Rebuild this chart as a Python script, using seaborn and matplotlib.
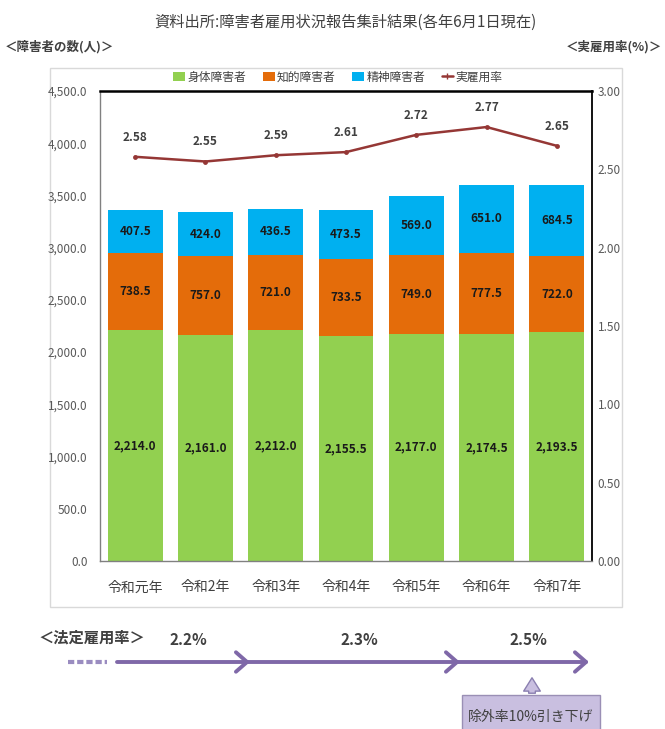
import numpy as np
import pandas as pd
import matplotlib
matplotlib.use("Agg")
import matplotlib.pyplot as plt
import seaborn as sns
from matplotlib.patches import Rectangle, FancyArrowPatch, Patch
from matplotlib.lines import Line2D
from matplotlib.ticker import FuncFormatter, MultipleLocator

# ---- data ----
years = ["令和元年", "令和2年", "令和3年", "令和4年", "令和5年", "令和6年", "令和7年"]
physical = [2214.0, 2161.0, 2212.0, 2155.5, 2177.0, 2174.5, 2193.5]
intellectual = [738.5, 757.0, 721.0, 733.5, 749.0, 777.5, 722.0]
mental = [407.5, 424.0, 436.5, 473.5, 569.0, 651.0, 684.5]
rate = [2.58, 2.55, 2.59, 2.61, 2.72, 2.77, 2.65]
series_names = ["身体障害者", "知的障害者", "精神障害者", "実雇用率"]
legal_rates = ["2.2%", "2.3%", "2.5%"]

sns.set_theme(style="white")
plt.rcParams["font.family"] = ["Noto Sans CJK JP", "DejaVu Sans"]

c_green = "#92d050"
c_orange = "#e46c0a"
c_blue = "#00b0f0"
c_line = "#953735"
c_purple = "#7f68a8"
c_text = "#404040"

df = pd.DataFrame({
    "year": years,
    "physical": physical,
    "intellectual": intellectual,
    "mental": mental,
})
df["s2"] = df["physical"] + df["intellectual"]
df["s3"] = df["s2"] + df["mental"]

W, H = 665, 729
fig = plt.figure(figsize=(W / 100, H / 100), dpi=100)
fig.patch.set_facecolor("white")

# overlay axes in pixel coordinates for decorations
ov = fig.add_axes([0, 0, 1, 1], zorder=-1)
ov.set_xlim(0, W)
ov.set_ylim(H, 0)
ov.axis("off")

ax = fig.add_axes([100 / W, 1 - 561 / H, 492 / W, 470 / H])
ax.set_facecolor("white")

sns.barplot(data=df, x="year", y="s3", color=c_blue, width=0.78, ax=ax,
            linewidth=0, saturation=1, errorbar=None)
sns.barplot(data=df, x="year", y="s2", color=c_orange, width=0.78, ax=ax,
            linewidth=0, saturation=1, errorbar=None)
sns.barplot(data=df, x="year", y="physical", color=c_green, width=0.78, ax=ax,
            linewidth=0, saturation=1, errorbar=None)

ax.set_xlim(-0.5, len(years) - 0.5)
ax.set_ylim(0, 4500)
ax.yaxis.set_major_locator(MultipleLocator(500))
ax.yaxis.set_major_formatter(FuncFormatter(lambda v, p: f"{v:,.1f}"))
ax.set_xlabel("")
ax.set_ylabel("")
ax.tick_params(axis="y", length=0, pad=9, labelsize=8.5, labelcolor="#595959")
ax.tick_params(axis="x", length=0, pad=14, labelsize=10, labelcolor=c_text)

for i in range(len(years)):
    g, o, m = physical[i], intellectual[i], mental[i]
    ax.text(i, g / 2, f"{g:,.1f}", ha="center", va="center", fontsize=8.5,
            fontweight="bold", color="#1a1a1a")
    ax.text(i, g + o / 2, f"{o:,.1f}", ha="center", va="center", fontsize=8.5,
            fontweight="bold", color="#1a1a1a")
    ax.text(i, g + o + m / 2, f"{m:,.1f}", ha="center", va="center", fontsize=8.5,
            fontweight="bold", color="#1a1a1a")

for s in ["left", "bottom"]:
    ax.spines[s].set_color("#808080")
    ax.spines[s].set_linewidth(1.0)
ax.spines["top"].set_color("black")
ax.spines["top"].set_linewidth(1.8)
ax.spines["right"].set_color("black")
ax.spines["right"].set_linewidth(1.3)

ax2 = ax.twinx()
sns.lineplot(x=np.arange(len(years)), y=rate, ax=ax2, color=c_line, linewidth=1.8,
             marker="o", markersize=3.5, markeredgewidth=0)
ax2.set_ylim(0, 3)
ax2.yaxis.set_major_locator(MultipleLocator(0.5))
ax2.yaxis.set_major_formatter(FuncFormatter(lambda v, p: f"{v:.2f}"))
ax2.tick_params(axis="y", length=0, pad=4, labelsize=8.5, labelcolor="#595959")
ax2.set_ylabel("")
for s in ax2.spines.values():
    s.set_visible(False)
for i, r in enumerate(rate):
    ax2.text(i, r + 0.125, f"{r:.2f}", ha="center", va="center", fontsize=8.5,
             fontweight="bold", color=c_text)

# legend
handles = [
    Patch(facecolor=c_green, edgecolor="none"),
    Patch(facecolor=c_orange, edgecolor="none"),
    Patch(facecolor=c_blue, edgecolor="none"),
    Line2D([], [], color=c_line, lw=1.8, marker="|", markersize=5),
]
fig.legend(handles, series_names, loc="center", bbox_to_anchor=(338 / W, 1 - 77 / H),
           ncol=4, frameon=False, fontsize=8.5, handlelength=1.0, handleheight=0.7,
           handletextpad=0.2, columnspacing=1.4, labelcolor=c_text)

# outer chart frame
ov.add_patch(Rectangle((50, 68), 572, 539, fill=False, edgecolor="#d9d9d9", lw=1.0))

# titles
ov.text(345, 22, "資料出所:障害者雇用状況報告集計結果(各年6月1日現在)", ha="center",
        va="center", fontsize=11, color=c_text)
ov.text(5, 47, "＜障害者の数(人)＞", ha="left", va="center", fontsize=9,
        fontweight="bold", color=c_text)
ov.text(662, 47, "＜実雇用率(%)＞", ha="right", va="center", fontsize=9,
        fontweight="bold", color=c_text)

# legal employment rate timeline
ov.text(38, 638, "＜法定雇用率＞", ha="left", va="center", fontsize=11,
        fontweight="bold", color=c_text)
for xc, lab in zip([188, 359, 528], legal_rates):
    ov.text(xc, 640, lab, ha="center", va="center", fontsize=11,
            fontweight="bold", color=c_text)
ov.plot([68, 107], [662, 662], color="#9a8cc0", lw=3, ls=(0, (1.5, 0.7)),
        solid_capstyle="butt")
for x0, x1 in [(117, 250), (248, 460), (458, 589)]:
    ov.annotate("", xy=(x1, 662), xytext=(x0, 662),
                arrowprops=dict(arrowstyle="->,head_length=0.4,head_width=0.35",
                                lw=2.8, color=c_purple, mutation_scale=20,
                                shrinkA=0, shrinkB=0))

ov.add_patch(FancyArrowPatch((532, 696), (532, 675),
                             arrowstyle="simple,head_width=1.0,head_length=0.8,tail_width=0.4",
                             mutation_scale=12, facecolor="#c9bfe0",
                             edgecolor="#8a7fb0", lw=1.0))
ov.add_patch(Rectangle((462, 695), 138, 40, facecolor="#c9bfe0",
                       edgecolor="#9a8fb5", lw=1.0))
ov.text(531, 717, "除外率10%引き下げ", ha="center", va="center", fontsize=10,
        color=c_text)

fig.savefig("out.png", dpi=100)
